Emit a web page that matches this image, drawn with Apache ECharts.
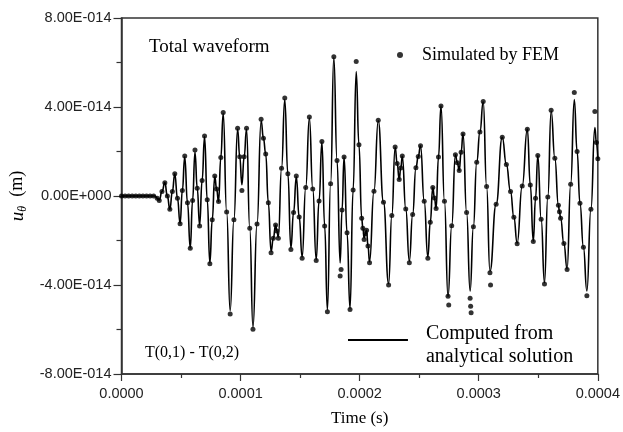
<!DOCTYPE html>
<html><head><meta charset="utf-8">
<script src="https://cdn.jsdelivr.net/npm/echarts@6/dist/echarts.min.js"></script>
<style>html,body{margin:0;padding:0;background:#fff}#c{width:623px;height:432px}</style>
</head><body><div id="c"></div>
<script>
// x tick values (s) and y tick values (units of 1e-14 m)
const xTicks = [0, 0.0001, 0.0002, 0.0003, 0.0004];
const yTicks = [-8, -4, 0, 4, 8];

// Analytical solution: [time in µs, u_theta in 1e-14 m]
const analyticalPoints = [
[0,0],[14,0],[28.3,0],[30,-0.1],[31.7,-0.18],[34,0.2],[36.4,0.6],[38.5,0],[40.6,-0.6],[42.7,0.2],
[44.75,1.0],[47,-0.1],[49.2,-1.23],[51.1,0.25],[53.1,1.76],[55.4,-0.3],[57.75,-2.34],[59.7,-0.2],[61.7,1.98],[63.6,0.35],
[65.6,-1.31],[67.7,0.7],[69.75,2.67],[72,-0.17],[74.2,-3.01],[76.2,-1.07],[78.3,0.87],[79.9,0.31],[81.5,-0.25],[83.4,1.73],
[85.4,3.72],[88.3,-0.72],[91.25,-5.16],[94.4,-1.07],[97.5,3.01],[99.3,1.76],[101.1,0.51],[103,1.76],[105,3.01],[107.7,-1.45],
[110.4,-5.9],[113.8,-1.26],[117.25,3.38],[119.2,2.6],[121.1,1.89],[123.3,-0.3],[125.6,-2.49],[127.5,-1.9],[129.4,-1.3],[130.5,-1.57],
[131.7,-1.85],[134.4,1.25],[137.1,4.34],[139.7,1.0],[142.25,-2.34],[144.5,-0.74],[146.8,0.86],[149.2,-0.94],[151.7,-2.74],[154.7,0.38],
[157.75,3.5],[160.6,0.32],[163.5,-2.86],[165.9,-0.22],[168.3,2.42],[170.6,-1.35],[172.9,-5.12],[175.6,0.55],[178.3,6.22],[181,1.6],
[183.6,-3.01],[185.2,-0.63],[186.9,1.75],[189.4,-1.65],[191.9,-5.06],[194.5,0.27],[197.1,5.59],[199.4,2.3],[201.7,-1.0],[202.7,-1.45],
[203.75,-1.89],[204.8,-1.7],[205.8,-1.54],[207,-2.25],[208.3,-2.96],[212,0.21],[215.6,3.38],[220,-0.28],[224.3,-3.94],[227,-0.88],
[229.8,2.19],[231.5,1.46],[233.2,0.74],[234.5,1.26],[235.8,1.78],[238.7,-0.58],[241.7,-2.93],[244.5,-0.83],[247.25,1.27],[249.2,1.77],
[251.1,2.26],[254.2,-0.24],[257.25,-2.74],[259.3,-1.18],[261.4,0.38],[262.8,-0.09],[264.2,-0.56],[266.2,1.75],[268.3,4.05],[271.2,-0.24],
[274.2,-4.52],[277.3,-1.34],[280.4,1.85],[282,1.5],[283.6,1.15],[285.2,1.97],[286.8,2.79],[289.8,-0.74],[292.75,-4.27],[295.5,-1.38],
[298.3,1.52],[301,2.88],[303.75,4.23],[306.6,0.43],[309.4,-3.38],[314.6,-0.37],[319.75,2.64],[323.2,1.42],[326.7,0.2],[329.5,-0.96],
[332.25,-2.12],[336.5,0.45],[340.8,3.01],[343.3,0.49],[345.8,-2.03],[347.7,-0.1],[349.6,1.82],[352.4,-1.04],[355.2,-3.9],[358,-0.04],
[360.8,3.82],[363.9,1.7],[366.9,-0.42],[367.8,-0.71],[368.75,-1.0],[371.5,-2.14],[374.2,-3.28],[377.2,0.53],[380.25,4.34],[382.6,2.0],
[385,-0.33],[387.9,-2.3],[390.8,-4.27],[394.2,-0.6],[397.5,3.08],[398.8,2.4],[400,1.67]
];

// Simulated by FEM: [time in µs, u_theta in 1e-14 m]
const femPoints = [
[0,0],[3,0],[6,0],[9,0],[12,0],[15,0],[18,0],[21,0],[24,0],[27,0],
[30,-0.1],[31.7,-0.2],[34,0.2],[36.4,0.6],[38.5,0],[40.6,-0.6],[42.7,0.2],[44.75,1.0],[47,-0.1],[49.2,-1.25],
[51.1,0.25],[53.1,1.8],[55.4,-0.3],[57.75,-2.35],[59.7,-0.2],[61.7,2.07],[63.6,0.35],[65.6,-1.35],[67.7,0.7],[69.75,2.7],
[72,-0.17],[74.2,-3.05],[76.2,-1.07],[78.3,0.9],[79.9,0.31],[81.5,-0.25],[83.4,1.73],[85.4,3.75],[88.3,-0.72],[91.25,-5.3],
[94.4,-1.07],[97.5,3.05],[99.3,1.76],[101.1,0.25],[103,1.76],[105,3.05],[107.7,-1.45],[110.4,-5.99],[113.8,-1.26],[117.25,3.45],
[119.2,2.6],[121.1,1.89],[123.3,-0.3],[125.6,-2.55],[127.5,-1.9],[129.4,-1.3],[130.5,-1.57],[131.7,-1.9],[134.4,1.25],[137.1,4.4],
[139.7,1.0],[142.25,-2.4],[144.5,-0.74],[146.8,0.9],[149.2,-0.94],[151.7,-2.8],[154.7,0.38],[157.75,3.55],[160.6,0.32],[163.5,-2.9],
[165.9,-0.22],[168.3,2.45],[170.6,-1.35],[172.9,-5.2],[175.6,0.55],[178.3,6.26],[181,1.6],[183.6,-3.6],[184.4,-3.3],[185.2,-0.63],
[186.9,1.75],[189.4,-1.65],[191.9,-5.1],[194.5,0.27],[197.1,6.05],[199.4,2.3],[201.7,-1.0],[202.7,-1.45],[203.75,-1.95],[204.8,-1.7],
[205.8,-1.54],[207,-2.25],[208.3,-3.0],[212,0.21],[215.6,3.4],[220,-0.28],[224.3,-4.0],[227,-0.88],[229.8,2.2],[231.5,1.46],
[233.2,0.74],[234.5,1.26],[235.8,1.8],[238.7,-0.58],[241.7,-3.0],[244.5,-0.83],[247.25,1.27],[249.2,1.77],[251.1,2.26],[254.2,-0.24],
[257.25,-2.8],[259.3,-1.18],[261.4,0.38],[262.8,-0.09],[264.2,-0.56],[266.2,1.75],[268.3,4.05],[271.2,-0.24],[274.2,-4.5],[274.8,-4.9],
[277.3,-1.34],[280.4,1.85],[282,1.5],[283.6,1.15],[285.2,1.97],[286.8,2.79],[289.8,-0.74],[292.75,-4.6],[293.2,-4.95],[293.6,-5.25],
[295.5,-1.38],[298.3,1.52],[301,2.88],[303.75,4.25],[306.6,0.43],[309.4,-3.45],[309.9,-4.0],[314.6,-0.37],[319.75,2.64],[323.2,1.42],
[326.7,0.2],[329.5,-0.96],[332.25,-2.15],[336.5,0.45],[340.8,3.0],[343.3,0.49],[345.8,-2.05],[347.7,-0.1],[349.6,1.82],[352.4,-1.04],
[355.2,-3.95],[358,-0.04],[360.8,3.85],[363.9,1.7],[366.9,-0.42],[367.8,-0.71],[368.75,-1.0],[371.5,-2.14],[374.2,-3.3],[377.2,0.53],
[380.25,4.65],[382.6,2.0],[385,-0.33],[387.9,-2.3],[390.8,-4.48],[394.2,-0.6],[397.5,3.8],[398.8,2.4],[400,1.67]
];

const femName = 'Simulated by FEM';
const anaName = 'Computed from\nanalytical solution';

const toSeries = arr => arr.map(p => [p[0] / 1e6, p[1]]);
const axisColor = '#333';

const chart = echarts.init(document.getElementById('c'));
chart.setOption({
  animation: false,
  backgroundColor: '#fff',
  grid: { left: 118, right: 25, top: 18, bottom: 55, show: true, borderColor: axisColor, borderWidth: 1.5, backgroundColor: 'transparent' },
  xAxis: {
    type: 'value', min: xTicks[0], max: xTicks[xTicks.length - 1], interval: xTicks[1] - xTicks[0],
    name: 'Time (s)', nameLocation: 'middle', nameGap: 36,
    nameTextStyle: { fontFamily: 'Liberation Serif', fontSize: 17, color: '#000' },
    axisLine: { onZero: false, lineStyle: { color: axisColor, width: 1.5 } },
    axisTick: { length: 7, lineStyle: { color: axisColor, width: 1.2 } },
    minorTick: { show: true, splitNumber: 2, length: 4, lineStyle: { color: axisColor, width: 1.2 } },
    splitLine: { show: false },
    axisLabel: { fontFamily: 'Liberation Sans', fontSize: 14.5, color: '#222', margin: 12, formatter: v => v.toFixed(4) }
  },
  yAxis: {
    type: 'value', min: yTicks[0], max: yTicks[yTicks.length - 1], interval: yTicks[1] - yTicks[0],
    name: '{u|u}{s|θ}  (m)', nameLocation: 'middle', nameGap: 93, nameRotate: 90,
    nameTextStyle: { fontFamily: 'Liberation Serif', fontSize: 18, color: '#000',
      rich: {
        u: { fontFamily: 'Liberation Serif', fontSize: 19, fontStyle: 'italic', color: '#000' },
        s: { fontFamily: 'Liberation Serif', fontSize: 12, fontStyle: 'italic', color: '#000', padding: [10, 0, 0, 0] }
      } },
    axisLine: { onZero: false, lineStyle: { color: axisColor, width: 1.5 } },
    axisTick: { length: 8, lineStyle: { color: axisColor, width: 1.2 } },
    minorTick: { show: true, splitNumber: 2, length: 5, lineStyle: { color: axisColor, width: 1.2 } },
    splitLine: { show: false },
    axisLabel: { fontFamily: 'Liberation Sans', fontSize: 14.5, color: '#222', margin: 10,
      formatter: v => v === 0 ? '0.00E+000' : v.toFixed(2) + 'E-014' }
  },
  legend: [
    { data: [{ name: femName, icon: 'circle' }], left: 392, top: 41, itemWidth: 6, itemHeight: 6, selectedMode: false,
      textStyle: { fontFamily: 'Liberation Serif', fontSize: 18, color: '#000', padding: [0, 0, 0, 14] } },
    { data: [{ name: anaName, icon: 'path://M0,0H60V2H0ZM0,12H0.01V12.01H0Z' }], left: 343, top: 317, itemWidth: 60, itemHeight: 12, selectedMode: false,
      textStyle: { fontFamily: 'Liberation Serif', fontSize: 20, lineHeight: 23, color: '#000', padding: [0, 0, 0, 13] } }
  ],
  graphic: [
    { type: 'text', left: 149, top: 38, style: { text: 'Total waveform', font: '19px "Liberation Serif"', fill: '#000' } },
    { type: 'text', left: 145, top: 345, style: { text: 'T(0,1) - T(0,2)', font: '16px "Liberation Serif"', fill: '#000' } }
  ],
  series: [
    { type: 'line', name: anaName, data: toSeries(analyticalPoints), smooth: 0.5, smoothMonotone: 'x', symbol: 'none',
      lineStyle: { color: '#000', width: 1.6 }, itemStyle: { color: '#000' }, z: 2 },
    { type: 'scatter', name: femName, data: toSeries(femPoints), symbol: 'circle', symbolSize: 5,
      itemStyle: { color: '#000' }, z: 3 }
  ]
});
</script></body></html>
